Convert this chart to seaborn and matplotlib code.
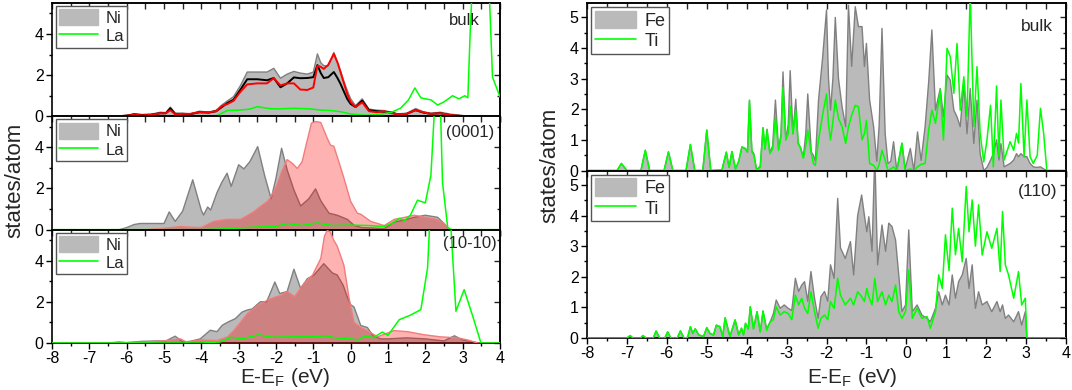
import numpy as np
import pandas as pd
import seaborn as sns
import matplotlib.pyplot as plt
from matplotlib.patches import Patch
from matplotlib.lines import Line2D
from matplotlib.ticker import MultipleLocator

#-----------------------------------------------------------------------------------------------------------------------
"""Data read off the figure (energy in eV, DOS in states/atom)"""
# left column, bulk: Ni total (grey), two Ni components (black, red) on the same grid
e_lb = [-8.0, -6.3, -6.0, -5.8, -5.6, -5.35, -5.1, -4.95, -4.83, -4.7, -4.5, -4.3, -4.05, -3.8, -3.6, -3.45, -3.3,
        -3.14, -2.95, -2.77, -2.5, -2.24, -2.06, -1.88, -1.7, -1.52, -1.35, -1.16, -1.0, -0.89, -0.8, -0.72, -0.6,
        -0.45, -0.35, -0.27, -0.18, -0.09, 0.0, 0.13, 0.31, 0.49, 0.7, 0.9, 1.1, 1.25, 1.5, 1.74, 1.95, 2.15, 2.4,
        2.7, 2.95, 3.2, 4.0]
ni_lb = [0, 0, 0.05, 0.12, 0.08, 0.1, 0.2, 0.18, 0.45, 0.15, 0.15, 0.12, 0.25, 0.2, 0.3, 0.55, 0.75,
         0.95, 1.5, 2.15, 2.15, 2.15, 2.33, 1.85, 2.05, 2.18, 2.1, 2.05, 2.15, 3.03, 2.6, 2.46, 2.45,
         3.1, 2.6, 2.2, 1.7, 1.25, 0.85, 0.52, 0.85, 0.35, 0.3, 0.28, 0.2, 0.12, 0.15, 0.38, 0.22, 0.15, 0.2,
         0.1, 0.05, 0, 0]
ni_lb_black = [0, 0, 0.03, 0.1, 0.07, 0.08, 0.15, 0.15, 0.39, 0.12, 0.12, 0.1, 0.2, 0.18, 0.25, 0.45, 0.65,
               0.8, 1.3, 1.8, 1.8, 1.75, 1.86, 1.41, 1.6, 1.89, 1.85, 1.86, 1.9, 2.49, 2.1, 1.86, 1.9,
               2.15, 1.85, 1.57, 1.2, 0.84, 0.6, 0.45, 0.76, 0.3, 0.25, 0.22, 0.18, 0.1, 0.12, 0.3, 0.18, 0.12, 0.15,
               0.05, 0.02, 0, 0]
ni_lb_red = [0, 0, 0.03, 0.08, 0.05, 0.07, 0.15, 0.15, 0.3, 0.1, 0.12, 0.12, 0.2, 0.2, 0.25, 0.5, 0.6,
             0.75, 1.2, 1.55, 1.6, 1.6, 1.85, 1.5, 1.6, 1.6, 1.3, 1.28, 1.4, 2.46, 2.4, 2.3, 2.5,
             3.03, 2.6, 2.14, 1.6, 1.08, 0.7, 0.45, 0.68, 0.25, 0.2, 0.25, 0.15, 0.1, 0.12, 0.3, 0.2, 0.12, 0.15,
             0.05, 0.02, 0, 0]
e_la_lb = [-8.0, -4.0, -3.58, -3.31, -3.0, -2.7, -2.5, -2.2, -1.97, -1.52, -1.07, -0.8, -0.53, -0.25, 0.0, 0.2, 0.45,
           0.8, 1.1, 1.34, 1.55, 1.72, 1.88, 2.0, 2.15, 2.33, 2.5, 2.73, 2.9, 3.06, 3.14, 3.2, 3.3, 3.67, 3.8, 4.0]
la_lb = [0, 0, 0.03, 0.28, 0.3, 0.35, 0.47, 0.38, 0.36, 0.39, 0.36, 0.3, 0.28, 0.22, 0.11, 0.08, 0.05,
         0.1, 0.2, 0.4, 0.8, 1.38, 0.9, 0.85, 0.8, 0.55, 0.7, 1.0, 0.85, 1.0, 0.9, 4.0, 8.0, 8.0, 1.9, 0.95]

# left column, (0001) surface
e_ni_l1 = [-8.0, -6.2, -6.0, -5.8, -5.64, -5.3, -5.0, -4.86, -4.7, -4.5, -4.23, -4.0, -3.94, -3.83, -3.75, -3.58,
           -3.45, -3.31, -3.2, -3.0, -2.86, -2.7, -2.49, -2.3, -2.13, -2.0, -1.85, -1.7, -1.52, -1.34, -1.12, -0.94,
           -0.8, -0.58, -0.36, -0.09, 0.1, 0.3, 0.6, 0.9, 1.16, 1.4, 1.7, 2.0, 2.33, 2.5, 2.65, 4.0]
ni_l1 = [0, 0, 0.1, 0.25, 0.3, 0.3, 0.3, 0.86, 0.4, 0.9, 2.42, 0.94, 0.71, 1.1, 0.95, 1.8,
         2.3, 2.74, 2.1, 3.15, 2.95, 3.3, 4.03, 2.6, 1.5, 2.5, 3.95, 2.9, 1.93, 1.15, 1.5, 1.98,
         1.4, 0.8, 0.7, 0.5, 0.2, 0.1, 0.08, 0.05, 0.37, 0.45, 0.6, 0.7, 0.6, 0.3, 0, 0]
e_pk_l1 = [-8.0, -5.5, -5.1, -4.56, -4.3, -4.0, -3.67, -3.31, -2.95, -2.8, -2.6, -2.42, -2.24, -2.15, -1.97, -1.85,
           -1.7, -1.55, -1.43, -1.3, -1.19, -1.05, -0.93, -0.8, -0.63, -0.54, -0.45, -0.3, -0.18, 0.0, 0.18, 0.27,
           0.54, 0.9, 1.17, 1.45, 1.7, 2.0, 2.3, 2.5, 2.65, 4.0]
pk_l1 = [0, 0, 0.05, 0.15, 0.12, 0.1, 0.4, 0.5, 0.5, 0.65, 0.86, 1.12, 1.35, 1.55, 2.18, 2.8,
         3.4, 3.2, 2.97, 3.3, 4.13, 5.17, 5.25, 5.2, 4.45, 4.1, 4.05, 3.2, 2.5, 1.37, 0.8, 0.75,
         0.4, 0.2, 0.5, 0.6, 0.7, 0.6, 0.5, 0.3, 0, 0]
e_la_l1 = [-8.0, -4.0, -3.5, -3.0, -2.5, -2.0, -1.7, -1.3, -0.9, -0.5, 0.0, 0.5, 0.9, 1.1, 1.3, 1.45, 1.6, 1.79,
           2.0, 2.15, 2.28, 2.39, 2.46, 2.6, 2.7, 4.0]
la_l1 = [0, 0, 0.03, 0.08, 0.13, 0.15, 0.3, 0.2, 0.33, 0.2, 0.22, 0.2, 0.15, 0.3, 0.54, 0.45, 0.7, 1.43,
         1.3, 2.65, 7.0, 7.0, 2.3, 0.1, 0, 0]

# left column, (10-10) surface
e_ni_l2 = [-8.0, -6.5, -6.2, -6.0, -5.6, -5.2, -4.95, -4.7, -4.5, -4.3, -4.03, -3.76, -3.58, -3.44, -3.27, -3.09,
           -2.91, -2.77, -2.64, -2.42, -2.25, -2.03, -1.9, -1.7, -1.52, -1.34, -1.16, -0.98, -0.72, -0.49, -0.36,
           -0.2, -0.09, 0.0, 0.09, 0.27, 0.45, 0.6, 0.8, 1.0, 1.5, 2.0, 2.5, 2.78, 3.0, 3.3, 3.45, 4.0]
ni_l2 = [0, 0, 0.05, 0.02, 0.08, 0.1, 0.1, 0.33, 0.05, 0.08, 0.2, 0.62, 0.55, 0.86, 1.03, 1.18,
         1.5, 1.6, 1.65, 2.0, 2.0, 2.96, 2.4, 2.5, 3.58, 2.65, 3.12, 3.3, 3.85, 3.4, 3.3,
         2.8, 2.23, 1.86, 1.75, 0.85, 0.75, 0.35, 0.2, 0.2, 0.25, 0.2, 0.1, 0.35, 0.15, 0.05, 0, 0]
e_pk_l2 = [-8.0, -6.2, -5.5, -5.0, -4.56, -4.4, -4.0, -3.58, -3.3, -3.13, -2.95, -2.77, -2.5, -2.24, -2.02, -1.88,
           -1.7, -1.5, -1.25, -1.02, -0.8, -0.7, -0.63, -0.55, -0.45, -0.36, -0.18, -0.04, 0.09, 0.27, 0.45, 0.72,
           1.16, 1.52, 1.97, 2.4, 2.86, 3.13, 3.4, 4.0]
pk_l2 = [0, 0, 0.05, 0.1, 0.2, 0.05, 0.15, 0.12, 0.3, 0.6, 1.0, 1.42, 1.8, 2.07, 2.23, 2.3,
         2.5, 2.25, 2.88, 3.3, 4.1, 5.2, 5.45, 5.4, 4.98, 4.7, 3.77, 2.15, 1.0, 0.75, 0.6, 0.3,
         0.6, 0.55, 0.4, 0.3, 0.25, 0.15, 0, 0]
e_la_l2 = [-8.0, -4.0, -3.5, -3.2, -2.9, -2.47, -2.1, -1.5, -1.0, -0.7, -0.4, 0.0, 0.2, 0.4, 0.6, 0.85, 1.0, 1.3,
           1.6, 1.88, 2.06, 2.15, 2.64, 2.82, 3.04, 3.27, 3.49, 4.0]
la_l2 = [0, 0, 0.05, 0.28, 0.2, 0.4, 0.28, 0.3, 0.3, 0.35, 0.25, 0.2, 0.15, 0.35, 0.25, 0.53, 0.37, 1.13,
         1.35, 1.62, 3.64, 7.0, 7.0, 1.54, 2.59, 1.3, 0, 0]

# right column, bulk Fe (grey) and Ti (green)
e_rb = [-8.0, -7.25, -7.14, -7.0, -6.65, -6.54, -6.43, -6.07, -5.96, -5.85,
        -5.52, -5.41, -5.3, -5.1, -5.0, -4.9, -4.62, -4.51, -4.44, -4.37,
        -4.28, -4.2, -4.12, -4.03, -3.98, -3.93, -3.87, -3.82, -3.75, -3.66,
        -3.59, -3.54, -3.49, -3.42, -3.35, -3.28, -3.2, -3.14, -3.09, -3.02,
        -2.96, -2.91, -2.84, -2.77, -2.71, -2.65, -2.58, -2.52, -2.47, -2.38,
        -2.33, -2.28, -2.2, -2.1, -2.0, -1.95, -1.9, -1.84, -1.78, -1.7,
        -1.61, -1.52, -1.45, -1.37, -1.28, -1.2, -1.11, -1.05, -1.0, -0.92,
        -0.82, -0.74, -0.68, -0.61, -0.53, -0.46, -0.39, -0.32, -0.24, -0.11,
        -0.03, 0.1, 0.19, 0.28, 0.37, 0.47, 0.56, 0.64, 0.73, 0.85,
        0.93, 1.02, 1.1, 1.19, 1.27, 1.35, 1.44, 1.52, 1.6, 1.69,
        1.77, 1.85, 1.94, 2.02, 2.11, 2.18, 2.26, 2.32, 2.37, 2.45,
        2.6, 2.69, 2.76, 2.81, 2.87, 2.95, 3.02, 3.1, 3.18, 3.28,
        3.36, 3.44, 3.52, 4.0]
fe_rb = [0, 0, 0.23, 0, 0, 0.66, 0, 0, 0.61, 0,
         0, 0.85, 0, 0, 1.32, 0, 0.02, 0.6, 0.1, 0.62,
         0.05, 0.3, 0.77, 0.7, 0.6, 2.3, 0.65, 0.55, 0.02, 0.15,
         1.4, 0.7, 1.35, 0.6, 0.8, 2.3, 0.7, 1.2, 3.22, 1.0,
         1.5, 3.26, 1.2, 2.33, 0.9, 0.75, 0.45, 1.2, 2.5, 0.6,
         0.5, 0.3, 2.3, 3.65, 5.24, 3.0, 1.97, 3.0, 5.0, 3.0,
         2.08, 1.43, 5.4, 3.4, 5.35, 4.7, 4.7, 3.4, 4.15, 2.3,
         1.43, 0.3, 1.5, 4.64, 1.2, 0.23, 0.3, 0.94, 0.0, 0.88,
         0.05, 0.72, 0.0, 1.26, 0.33, 1.43, 2.9, 4.59, 1.97, 2.68,
         1.75, 3.12, 2.95, 1.97, 1.75, 1.43, 2.84, 1.2, 2.68, 0.88,
         2.3, 0.55, 0.0, 0.1, 0.34, 0.55, 1.0, 0.34, 0.88, 0.12,
         0.23, 0.34, 0.55, 0.45, 0.55, 0.45, 0.45, 0.23, 0.12, 0.1,
         0.12, 0.05, 0.0, 0]
ti_rb = [0, 0, 0.23, 0, 0, 0.66, 0, 0, 0.61, 0,
         0, 0.85, 0, 0, 1.32, 0, 0.02, 0.6, 0.1, 0.62,
         0.05, 0.3, 0.77, 0.72, 0.6, 2.28, 0.6, 0.5, 0, 0.1,
         1.39, 0.7, 1.32, 0.55, 0.7, 1.73, 0.66, 1.1, 2.71, 1.0,
         1.2, 2.1, 1.2, 1.97, 0.88, 0.72, 0.4, 0.8, 1.32, 0.55,
         0.23, 0.17, 0.99, 1.8, 2.5, 1.5, 1.0, 1.6, 2.3, 1.7,
         1.43, 0.88, 1.43, 1.8, 2.13, 2.08, 1.0, 1.2, 1.64, 0.23,
         0.17, 0.0, 0.2, 0.66, 0.33, 0.0, 0.05, 0.12, 0.0, 0.9,
         0.0, 0.05, 0.0, 0.12, 0.2, 0.23, 1.32, 1.97, 1.54, 2.63,
         1.0, 3.99, 3.72, 2.52, 4.15, 1.97, 3.06, 1.75, 5.8, 1.43,
         3.39, 1.2, 0.28, 1.0, 2.13, 0.12, 2.76, 0.45, 2.3, 0.34,
         0.94, 0.66, 1.21, 0.9, 2.84, 0.45, 2.3, 0.45, 0.23, 0.5,
         2.03, 1.21, 0.0, 0]

# right column, (110) surface
e_r110 = [-8.0, -7.0, -6.92, -6.85, -6.66, -6.6, -6.52, -6.34, -6.27, -6.18,
          -6.05, -5.98, -5.9, -5.74, -5.66, -5.57, -5.48, -5.41, -5.35, -5.29,
          -5.2, -5.08, -5.0, -4.92, -4.83, -4.76, -4.67, -4.6, -4.54, -4.42,
          -4.29, -4.2, -4.13, -4.08, -4.03, -3.96, -3.91, -3.83, -3.74, -3.66,
          -3.59, -3.5, -3.41, -3.33, -3.26, -3.16, -3.06, -2.96, -2.87, -2.78,
          -2.7, -2.62, -2.55, -2.47, -2.39, -2.3, -2.21, -2.14, -2.05, -1.97,
          -1.9, -1.81, -1.72, -1.65, -1.53, -1.4, -1.32, -1.22, -1.12, -1.05,
          -0.99, -0.94, -0.86, -0.79, -0.72, -0.61, -0.52, -0.44, -0.36, -0.27,
          -0.19, -0.11, -0.02, 0.06, 0.15, 0.27, 0.39, 0.52, 0.6, 0.73,
          0.81, 0.9, 0.98, 1.07, 1.15, 1.23, 1.31, 1.4, 1.5, 1.57,
          1.65, 1.73, 1.81, 1.9, 2.02, 2.14, 2.27, 2.35, 2.41, 2.48,
          2.56, 2.69, 2.81, 2.89, 2.98, 3.02, 4.0]
fe_r110 = [0, 0, 0.08, 0, 0, 0.08, 0, 0, 0.23, 0,
           0, 0.2, 0, 0, 0.23, 0, 0.02, 0.37, 0.15, 0.3,
           0.1, 0.05, 0.34, 0.15, 0.1, 0.42, 0.37, 0.05, 0.66, 0.05,
           0.59, 0.1, 0.32, 0.1, 0.48, 0.3, 1.02, 0.3, 0.86, 0.2,
           0.88, 0.3, 0.53, 0.8, 1.24, 0.97, 1.08, 0.97, 0.9, 1.95,
           1.52, 1.73, 1.84, 1.2, 2.17, 1.3, 0.64, 1.35, 1.52, 1.2,
           2.39, 1.95, 4.56, 2.94, 2.6, 3.15, 2.06, 4.0, 4.67, 4.0,
           3.47, 3.96, 2.83, 6.0, 2.39, 3.69, 2.83, 3.75, 3.64, 3.2,
           2.06, 0.86, 1.08, 3.53, 0.86, 1.08, 0.75, 0.64, 0.53, 0.97,
           1.51, 1.08, 1.4, 1.08, 2.06, 1.3, 1.84, 2.06, 2.6, 1.62,
           2.39, 0.97, 1.51, 1.08, 1.19, 0.86, 1.19, 0.86, 1.08, 0.64,
           0.75, 0.53, 0.86, 0.42, 0.86, 0.0, 0]
ti_r110 = [0, 0, 0.08, 0, 0, 0.08, 0, 0, 0.23, 0,
           0, 0.2, 0, 0, 0.23, 0, 0.02, 0.37, 0.15, 0.3,
           0.1, 0.05, 0.34, 0.15, 0.1, 0.42, 0.37, 0.05, 0.66, 0.05,
           0.59, 0.1, 0.32, 0.1, 0.48, 0.3, 1.02, 0.3, 0.86, 0.2,
           0.88, 0.25, 0.53, 0.6, 1.02, 0.75, 0.86, 0.8, 0.6, 1.4,
           1.08, 1.3, 0.97, 0.8, 1.51, 0.86, 0.32, 0.64, 0.75, 0.6,
           1.19, 0.97, 1.95, 1.4, 1.08, 1.3, 1.08, 1.51, 1.35, 1.19,
           1.62, 1.35, 1.08, 1.95, 1.19, 1.51, 1.08, 1.4, 1.19, 1.73,
           0.86, 0.64, 0.86, 2.22, 0.64, 0.97, 0.64, 0.7, 0.32, 0.86,
           2.06, 1.62, 3.37, 2.2, 4.24, 2.72, 3.58, 2.49, 4.95, 3.47,
           4.51, 3.0, 4.35, 2.71, 3.47, 2.93, 3.58, 2.17, 4.13, 2.39,
           2.06, 1.3, 2.17, 1.08, 1.3, 0.0, 0]

# ticks / labels
x_ticks = [-8, -7, -6, -5, -4, -3, -2, -1, 0, 1, 2, 3, 4]
left_yticks = [0, 2, 4]
right_yticks = [0, 1, 2, 3, 4, 5]
left_labels = ['bulk', '(0001)', '(10-10)']
right_labels = ['bulk', '(110)']

#-----------------------------------------------------------------------------------------------------------------------
"""Style"""
sns.set_theme(style='ticks')
plt.rcParams['font.family'] = ['Liberation Sans', 'DejaVu Sans']
plt.rcParams['mathtext.default'] = 'regular'
plt.rcParams['axes.unicode_minus'] = False
plt.rcParams['axes.linewidth'] = 1.2

GREY = '#bababa'
GREY_EDGE = '#808080'
GREEN = '#00ff00'

fig = plt.figure(figsize=(10.72, 3.9), dpi=100)
fig.patch.set_facecolor('white')

left_axes = [fig.add_axes([0.0485, 0.7017, 0.4179, 0.2906]),
             fig.add_axes([0.0485, 0.4111, 0.4179, 0.2906]),
             fig.add_axes([0.0485, 0.1205, 0.4179, 0.2906])]
right_axes = [fig.add_axes([0.5476, 0.5628, 0.4468, 0.4295]),
              fig.add_axes([0.5476, 0.1333, 0.4468, 0.4295])]


def grey_fill(ax, e, v):
    ax.fill_between(e, v, 0, facecolor=GREY, edgecolor='none', zorder=1)
    sns.lineplot(x=e, y=v, ax=ax, color=GREY_EDGE, linewidth=1.0, estimator=None, sort=False, zorder=2)


def pink_fill(ax, e, v):
    ax.fill_between(e, v, 0, facecolor='#ff0000', alpha=0.3, edgecolor='none', zorder=3)
    sns.lineplot(x=e, y=v, ax=ax, color='#f27c7c', linewidth=1.0, estimator=None, sort=False, zorder=4)


def green_line(ax, e, v):
    sns.lineplot(x=e, y=v, ax=ax, color=GREEN, linewidth=1.1, estimator=None, sort=False, zorder=6)


def style_axis(ax, ymax, yticks, yminor, show_x):
    ax.set_xlim(-8, 4)
    ax.set_ylim(0, ymax)
    ax.set_xticks(x_ticks)
    ax.xaxis.set_minor_locator(MultipleLocator(0.5))
    ax.set_yticks(yticks)
    ax.yaxis.set_minor_locator(MultipleLocator(yminor))
    ax.tick_params(which='both', direction='out', width=1.0, labelsize=11.5, colors='black', pad=2)
    ax.tick_params(which='major', length=4)
    ax.tick_params(which='minor', length=2.5)
    ax.set_xlabel('')
    ax.set_ylabel('')
    if not show_x:
        ax.tick_params(axis='x', labelbottom=False)
    for s in ax.spines.values():
        s.set_color('black')
        s.set_linewidth(1.2)
    # inward ticks on top and right
    top = ax.secondary_xaxis('top')
    top.set_xticks(x_ticks)
    top.xaxis.set_minor_locator(MultipleLocator(0.5))
    top.tick_params(which='both', direction='in', width=1.0, labeltop=False)
    top.tick_params(which='major', length=4)
    top.tick_params(which='minor', length=4)
    right = ax.secondary_yaxis('right')
    right.set_yticks(yticks)
    right.yaxis.set_minor_locator(MultipleLocator(yminor))
    right.tick_params(which='both', direction='in', width=1.0, labelright=False)
    right.tick_params(which='major', length=4)
    right.tick_params(which='minor', length=2.5)


def add_legend(ax, names, fs, anchor):
    handles = [Patch(facecolor=GREY, edgecolor=GREY),
               Line2D([0], [0], color=GREEN, linewidth=1.2)]
    leg = ax.legend(handles, names, loc='upper left', bbox_to_anchor=anchor, borderaxespad=0,
                    fontsize=fs, handlelength=2.3, handleheight=1.1, handletextpad=0.45,
                    borderpad=0.2, labelspacing=0.1, fancybox=False, framealpha=1)
    leg.get_frame().set_edgecolor('#555555')
    leg.get_frame().set_linewidth(1.0)
    leg.set_zorder(10)


#-----------------------------------------------------------------------------------------------------------------------
"""Left column: LaNi5"""
ax = left_axes[0]
grey_fill(ax, e_lb, ni_lb)
sns.lineplot(x=e_lb, y=ni_lb_black, ax=ax, color='black', linewidth=1.4, estimator=None, sort=False, zorder=4)
sns.lineplot(x=e_lb, y=ni_lb_red, ax=ax, color='#ff0000', linewidth=1.4, estimator=None, sort=False, zorder=5)
green_line(ax, e_la_lb, la_lb)

ax = left_axes[1]
grey_fill(ax, e_ni_l1, ni_l1)
pink_fill(ax, e_pk_l1, pk_l1)
green_line(ax, e_la_l1, la_l1)

ax = left_axes[2]
grey_fill(ax, e_ni_l2, ni_l2)
pink_fill(ax, e_pk_l2, pk_l2)
green_line(ax, e_la_l2, la_l2)

label_pos = [(0.955, 0.85), (0.987, 0.86), (0.992, 0.876)]
for i, ax in enumerate(left_axes):
    style_axis(ax, 5.5, left_yticks, 1, show_x=(i == 2))
    add_legend(ax, ['Ni', 'La'], 12, (0.009, 0.975))
    ax.text(label_pos[i][0], label_pos[i][1], left_labels[i], transform=ax.transAxes,
            ha='right', va='center', fontsize=12, zorder=11)

#-----------------------------------------------------------------------------------------------------------------------
"""Right column: FeTi"""
ax = right_axes[0]
grey_fill(ax, e_rb, fe_rb)
green_line(ax, e_rb, ti_rb)

ax = right_axes[1]
grey_fill(ax, e_r110, fe_r110)
green_line(ax, e_r110, ti_r110)

label_pos = [(0.973, 0.858), (0.983, 0.876)]
for i, ax in enumerate(right_axes):
    style_axis(ax, 5.47, right_yticks, 0.5, show_x=(i == 1))
    add_legend(ax, ['Fe', 'Ti'], 13, (0.009, 0.975))
    ax.text(label_pos[i][0], label_pos[i][1], right_labels[i], transform=ax.transAxes,
            ha='right', va='center', fontsize=12.5, zorder=11)

#-----------------------------------------------------------------------------------------------------------------------
"""Axis titles"""
fig.text(0.014, 0.538, 'states/atom', rotation=90, ha='center', va='center', fontsize=16)
fig.text(0.513, 0.577, 'states/atom', rotation=90, ha='center', va='center', fontsize=16)
fig.text(0.266, 0.017, 'E-E$_F$ (eV)', ha='center', va='baseline', fontsize=15)
fig.text(0.795, 0.017, 'E-E$_F$ (eV)', ha='center', va='baseline', fontsize=15)

fig.savefig('out.png', dpi=100)
